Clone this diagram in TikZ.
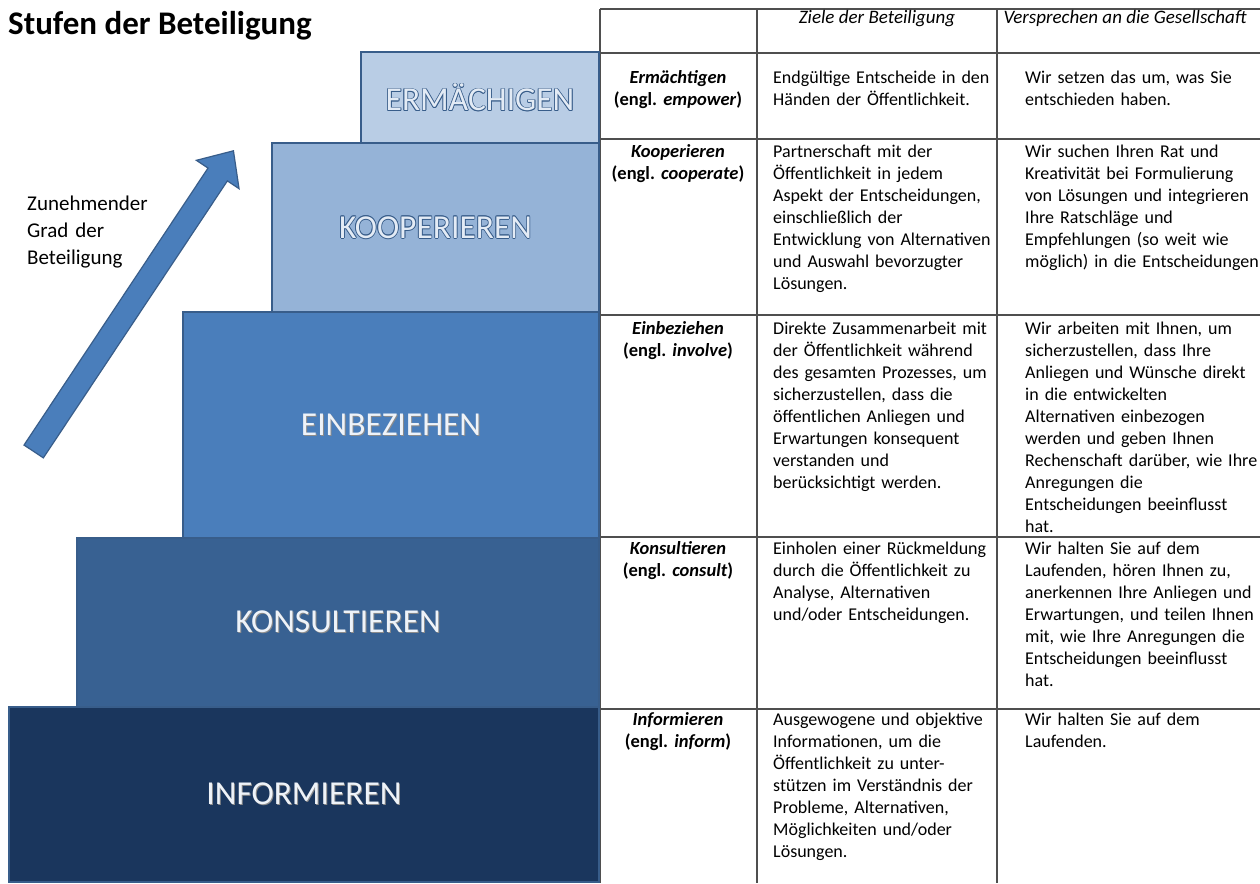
\documentclass[tikz,border=0pt]{standalone}
\usepackage{fontspec}
\setmainfont{Carlito}
\usepackage{xcolor}
\usepackage{tikz}
\usetikzlibrary{shapes,arrows,positioning}

\definecolor{stepedge}{HTML}{385D8A}
\definecolor{empowerfill}{HTML}{B9CDE5}
\definecolor{cooperatefill}{HTML}{95B3D7}
\definecolor{involvefill}{HTML}{4A7EBB}
\definecolor{consultfill}{HTML}{386192}
\definecolor{informfill}{HTML}{1A365D}
\definecolor{hollowfill}{HTML}{E3EBF5}
\definecolor{steptext}{HTML}{EEF3F9}
\definecolor{gridgray}{HTML}{4F4F4F}

\tikzstyle{stepbox}=[draw=stepedge, line width=2.5pt, inner sep=0pt, text=steptext, font=\fontsize{33.5}{38}\selectfont]
\tikzstyle{tabline}=[draw=gridgray, line width=1.5pt]
\tikzstyle{colhead}=[anchor=base, inner sep=0pt, font=\fontsize{19}{23}\selectfont\itshape]
\tikzstyle{lvl}=[anchor=base, text width=150pt, align=center, inner sep=0pt, font=\fontsize{18.5}{22}\selectfont\bfseries]
\tikzstyle{cell}=[anchor=base west, text width=262pt, align=left, inner sep=0pt, font=\fontsize{18}{22}\selectfont]

% outlined caps for the two light steps, soft shadow for the dark ones
\newcommand{\nudged}[3]{\rlap{\raisebox{#2}{\kern#1#3}}}
\newcommand{\hollow}[1]{{\color{stepedge}%
  \nudged{-.8pt}{0pt}{#1}\nudged{.8pt}{0pt}{#1}\nudged{0pt}{.8pt}{#1}\nudged{0pt}{-.8pt}{#1}%
  \nudged{-.6pt}{.6pt}{#1}\nudged{.6pt}{.6pt}{#1}\nudged{-.6pt}{-.6pt}{#1}\nudged{.6pt}{-.6pt}{#1}}%
  {\color{hollowfill}#1}}
\newcommand{\lifted}[1]{{\color{black!45}\nudged{1pt}{-1pt}{#1}}#1}

\begin{document}
\begin{tikzpicture}[x=1pt, y=-1pt]
  \useasboundingbox[fill=white] (0,0) rectangle (1260,883);

  % ── title ─────────────────────────────────────────────────────────────────
  \node[anchor=base west, inner sep=0pt, font=\fontsize{33}{38}\selectfont\bfseries]
    (title) at (8,35) {Stufen der Beteiligung};

  % ── table grid ────────────────────────────────────────────────────────────
  \foreach \y in {9,53,139,315,537,709}
    \draw[tabline] (600,\y) -- (1260,\y);
  \foreach \x in {600,757,997}
    \draw[tabline] (\x,9) -- (\x,883);

  \node[colhead] (goals) at (877,24) {Ziele der Beteiligung};
  \node[colhead] (promise) at (1125,24) {Versprechen an die Gesellschaft};

  % ── stairs ────────────────────────────────────────────────────────────────
  \node[stepbox, fill=informfill, minimum width=590pt, minimum height=175pt]
    (inform) at (304,794.5) {\lifted{INFORMIEREN}};
  \node[stepbox, fill=consultfill, minimum width=522pt, minimum height=169pt]
    (consult) at (338,622.5) {\lifted{KONSULTIEREN}};
  \node[stepbox, fill=involvefill, minimum width=416pt, minimum height=226pt]
    (involve) at (391,425) {\lifted{EINBEZIEHEN}};
  \node[stepbox, fill=cooperatefill, minimum width=327pt, minimum height=169pt]
    (cooperate) at (435.5,227.5) {\hollow{KOOPERIEREN}};
  \node[stepbox, fill=empowerfill, minimum width=238pt, minimum height=91pt]
    (empower) at (480,97.5) {\hollow{ERMÄCHIGEN}};

  % ── rising arrow ──────────────────────────────────────────────────────────
  \node[single arrow, draw=stepedge, fill=involvefill, line width=1.2pt,
        inner xsep=0pt, inner ysep=11pt,
        rotate=56.4, minimum height=361pt,
        single arrow head extend=14pt, single arrow tip angle=84]
    (riser) at (130,306.5) {};
  \node[anchor=base west, text width=140pt, align=left, inner sep=0pt,
        font=\fontsize{21}{27}\selectfont]
    (riselabel) at (27,210) {Zunehmender\\Grad der\\Beteiligung};

  % ── Ermächtigen ───────────────────────────────────────────────────────────
  \node[lvl] (lvlA) at (678,83) {\textit{Ermächtigen}\\(engl.\ \textit{empower})};
  \node[cell] (goalA) at (773,83) {Endgültige Entscheide in den\\Händen der Öffentlichkeit.};
  \node[cell] (promA) at (1025,83) {Wir setzen das um, was Sie\\entschieden haben.};

  % ── Kooperieren ───────────────────────────────────────────────────────────
  \node[lvl] (lvlB) at (678,157) {\textit{Kooperieren}\\(engl.\ \textit{cooperate})};
  \node[cell] (goalB) at (773,157) {Partnerschaft mit der\\Öffentlichkeit in jedem\\Aspekt der Entscheidungen,\\einschließlich der\\Entwicklung von Alternativen\\und Auswahl bevorzugter\\Lösungen.};
  \node[cell] (promB) at (1025,157) {Wir suchen Ihren Rat und\\Kreativität bei Formulierung\\von Lösungen und integrieren\\Ihre Ratschläge und\\Empfehlungen (so weit wie\\möglich) in die Entscheidungen};

  % ── Einbeziehen ───────────────────────────────────────────────────────────
  \node[lvl] (lvlC) at (678,334) {\textit{Einbeziehen}\\(engl.\ \textit{involve})};
  \node[cell] (goalC) at (773,334) {Direkte Zusammenarbeit mit\\der Öffentlichkeit während\\des gesamten Prozesses, um\\sicherzustellen, dass die\\öffentlichen Anliegen und\\Erwartungen konsequent\\verstanden und\\berücksichtigt werden.};
  \node[cell] (promC) at (1025,334) {Wir arbeiten mit Ihnen, um\\sicherzustellen, dass Ihre\\Anliegen und Wünsche direkt\\in die entwickelten\\Alternativen einbezogen\\werden und geben Ihnen\\Rechenschaft darüber, wie Ihre\\Anregungen die\\Entscheidungen beeinflusst\\hat.};

  % ── Konsultieren ──────────────────────────────────────────────────────────
  \node[lvl] (lvlD) at (678,554) {\textit{Konsultieren}\\(engl.\ \textit{consult})};
  \node[cell] (goalD) at (773,554) {Einholen einer Rückmeldung\\durch die Öffentlichkeit zu\\Analyse, Alternativen\\und/oder Entscheidungen.};
  \node[cell] (promD) at (1025,554) {Wir halten Sie auf dem\\Laufenden, hören Ihnen zu,\\anerkennen Ihre Anliegen und\\Erwartungen, und teilen Ihnen\\mit, wie Ihre Anregungen die\\Entscheidungen beeinflusst\\hat.};

  % ── Informieren ───────────────────────────────────────────────────────────
  \node[lvl] (lvlE) at (678,725) {\textit{Informieren}\\(engl.\ \textit{inform})};
  \node[cell] (goalE) at (773,725) {Ausgewogene und objektive\\Informationen, um die\\Öffentlichkeit zu unter-\\stützen im Verständnis der\\Probleme, Alternativen,\\Möglichkeiten und/oder\\Lösungen.};
  \node[cell] (promE) at (1025,725) {Wir halten Sie auf dem\\Laufenden.};

\end{tikzpicture}
\end{document}
